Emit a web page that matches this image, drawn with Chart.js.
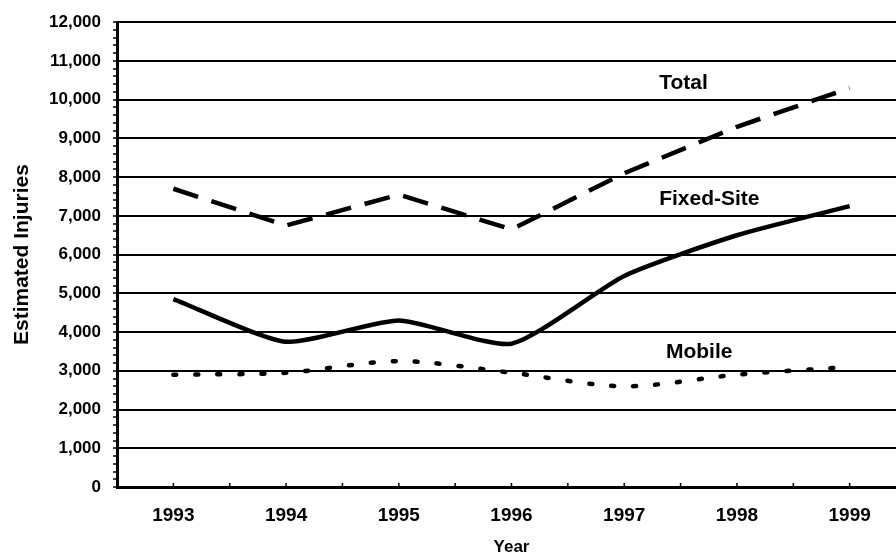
<!DOCTYPE html>
<html>
<head>
<meta charset="utf-8">
<title>Estimated Injuries 1993-1999</title>
<script src="https://cdn.jsdelivr.net/npm/chart.js@4.4.1/dist/chart.umd.min.js"></script>
<style>
    html, body { margin: 0; padding: 0; background: #fff; overflow: hidden; }
</style>
</head>
<body>
<canvas id="injuries" width="906" height="556"></canvas>
<script>
// ============================================
// Estimated injuries by year — line chart
// ============================================

const years = ['1993', '1994', '1995', '1996', '1997', '1998', '1999'];
const totalInjuries = [7700, 6750, 7550, 6650, 8100, 9300, 10300];
const fixedSiteInjuries = [4850, 3750, 4300, 3700, 5450, 6500, 7250];
const mobileInjuries = [2900, 2950, 3250, 2950, 2600, 2900, 3100];

const yMajorTicks = [0, 1000, 2000, 3000, 4000, 5000, 6000, 7000, 8000, 9000, 10000, 11000, 12000];
const yTickLabels = ['0', '1,000', '2,000', '3,000', '4,000', '5,000', '6,000', '7,000', '8,000', '9,000', '10,000', '11,000', '12,000'];

const seriesNames = ['Total', 'Fixed-Site', 'Mobile'];

// where the series names sit, in axis units (category index, injuries)
const nameAnchors = [
    { x: 4.31, y: 10430 },
    { x: 4.31, y: 7420 },
    { x: 4.37, y: 3480 },
];

const FONT = '"Liberation Sans", Arial, Helvetica, sans-serif';
Chart.defaults.font.family = FONT;
Chart.defaults.color = '#000';

const isMajor = (v) => yMajorTicks.includes(v);

// Series names written next to the lines
const seriesNamePlugin = {
    id: 'seriesNames',
    afterDatasetsDraw(chart) {
        const { ctx, scales: { x, y } } = chart;
        ctx.save();
        ctx.font = 'bold 21px ' + FONT;
        ctx.fillStyle = '#000';
        ctx.textAlign = 'left';
        ctx.textBaseline = 'middle';
        seriesNames.forEach((name, i) => {
            const a = nameAnchors[i];
            ctx.fillText(name, x.getPixelForValue(a.x), y.getPixelForValue(a.y));
        });
        ctx.restore();
    },
};

// Small inward tick marks on the year axis (centres and boundaries)
const yearTickPlugin = {
    id: 'yearTicks',
    afterDraw(chart) {
        const { ctx, scales: { x }, chartArea } = chart;
        ctx.save();
        ctx.strokeStyle = '#000';
        ctx.lineWidth = 1.5;
        for (let v = 0; v <= years.length - 0.5; v += 0.5) {
            const px = x.getPixelForValue(v);
            ctx.beginPath();
            ctx.moveTo(px, chartArea.bottom);
            ctx.lineTo(px, chartArea.bottom - 4);
            ctx.stroke();
        }
        ctx.restore();
    },
};

new Chart(document.getElementById('injuries'), {
    type: 'line',
    data: {
        labels: years,
        datasets: [
            {
                label: 'Total',
                data: totalInjuries,
                borderColor: '#000',
                borderWidth: 4.5,
                borderDash: [26, 14],
                tension: 0,
                pointRadius: 0,
                fill: false,
            },
            {
                label: 'Fixed-Site',
                data: fixedSiteInjuries,
                borderColor: '#000',
                borderWidth: 4.5,
                tension: 0.2,
                pointRadius: 0,
                fill: false,
            },
            {
                label: 'Mobile',
                data: mobileInjuries,
                borderColor: '#000',
                borderWidth: 4.5,
                borderDash: [3, 19],
                borderCapStyle: 'round',
                tension: 0.3,
                pointRadius: 0,
                fill: false,
            },
        ],
    },
    options: {
        responsive: false,
        animation: false,
        layout: { padding: { top: 21, right: 0, left: 0, bottom: 0 } },
        plugins: {
            legend: { display: false },
            tooltip: { enabled: false },
        },
        scales: {
            x: {
                offset: true,
                grid: { display: false, drawTicks: false },
                border: { display: true, color: '#000', width: 3 },
                ticks: {
                    padding: 17,
                    font: { size: 19, weight: 'bold' },
                    color: '#000',
                },
                title: {
                    display: true,
                    text: 'Year',
                    font: { size: 17, weight: 'bold', lineHeight: 1 },
                    padding: { top: 0, bottom: 0 },
                    color: '#000',
                },
                afterFit(scale) { scale.height = 69; },
            },
            y: {
                min: 0,
                max: 12000,
                border: { display: true, color: '#000', width: 3 },
                grid: {
                    color: (ctx) => (isMajor(ctx.tick.value) ? '#000' : 'rgba(0,0,0,0)'),
                    lineWidth: 2,
                    drawTicks: true,
                    tickLength: 4,
                    tickColor: '#000',
                    tickWidth: 1.5,
                },
                ticks: {
                    stepSize: 200,
                    autoSkip: false,
                    padding: 12,
                    font: { size: 17, weight: 'bold' },
                    color: '#000',
                    callback: (v) => {
                        const i = yMajorTicks.indexOf(v);
                        return i >= 0 ? yTickLabels[i] : '';
                    },
                },
                title: {
                    display: true,
                    text: 'Estimated Injuries',
                    font: { size: 21, weight: 'bold', lineHeight: 1.2 },
                    padding: { top: 10, bottom: 0 },
                    color: '#000',
                },
                afterFit(scale) { scale.width = 117; },
            },
        },
    },
    plugins: [seriesNamePlugin, yearTickPlugin],
});
</script>
</body>
</html>
